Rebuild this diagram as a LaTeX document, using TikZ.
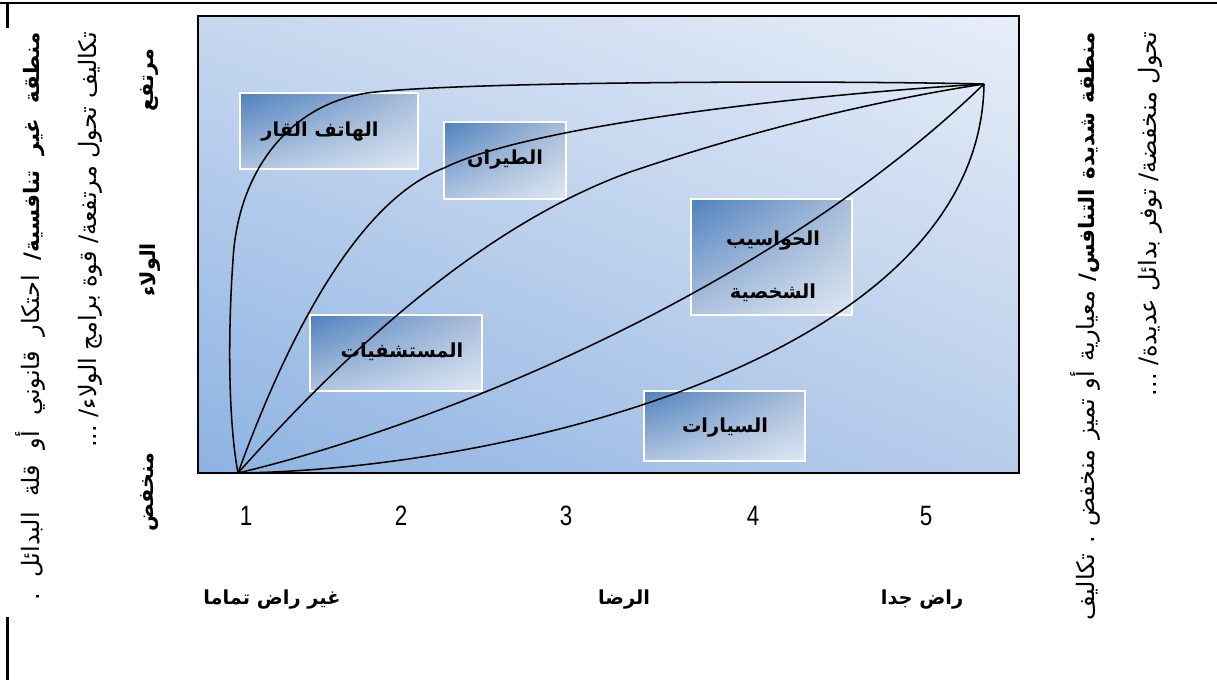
\documentclass[tikz,border=0pt]{standalone}
\usepackage{fontspec}
\setmainfont{Liberation Sans}
\newfontfamily\arreg[Script=Arabic]{DejaVu Sans}
\newcommand\arbold{\arreg\bfseries}
\newcommand\sidebold{\arreg\bfseries\fontsize{16}{22}\selectfont}
\TeXXeTstate=1
\usetikzlibrary{fit,shadings}
\definecolor{bgLL}{RGB}{141,179,226}
\definecolor{bgUR}{RGB}{231,238,248}
\definecolor{bgUL}{RGB}{198,215,239}
\definecolor{bgLR}{RGB}{183,204,235}
\definecolor{bxUL}{RGB}{79,129,189}
\definecolor{bxLR}{RGB}{222,231,243}
\definecolor{bxUR}{RGB}{168,189,218}
\definecolor{bxLL}{RGB}{176,196,224}
\newcommand\myAR[1]{\beginR #1\endR}
\newcommand\mynum[1]{\scalebox{0.8}[1]{#1}}
\tikzset{
  plotarea/.style={draw=black, line width=1.3pt, inner sep=0pt, shade,
    upper left=bgUL, upper right=bgUR, lower left=bgLL, lower right=bgLR},
  catbox/.style={draw=white, line width=1.4pt, inner sep=0pt, shade,
    upper left=bxUL, upper right=bxUR, lower left=bxLL, lower right=bxLR},
  cattext/.style={font=\arbold\fontsize{14.5}{40}\selectfont, align=center, inner sep=0pt},
  curve/.style={draw=black, line width=1.15pt},
  sidetext/.style={rotate=90, anchor=east, inner sep=0pt, font=\arreg\fontsize{18}{22}\selectfont},
  axislbl/.style={rotate=90, inner sep=0pt, font=\arbold\fontsize{15.5}{22}\selectfont},
  numlbl/.style={inner sep=0pt, font=\fontsize{21}{24}\selectfont},
  botlbl/.style={inner sep=0pt, font=\arbold\fontsize{14.5}{22}\selectfont},
  frameline/.style={draw=black, line width=1.6pt}
}
\begin{document}
\begin{tikzpicture}[x=0.75pt,y=-0.75pt]
\useasboundingbox (0,0) rectangle (1217,680);
\fill[white] (0,0) rectangle (1217,680);
% frame lines
\coordinate (tl) at (0,3);
\coordinate (tr) at (1217,3);
\draw[frameline] (tl) -- (tr);
\coordinate (v1a) at (7.5,2);
\coordinate (v1b) at (7.5,28);
\coordinate (v2a) at (7.5,617);
\coordinate (v2b) at (7.5,680);
\draw[frameline] (v1a) -- (v1b);
\draw[frameline] (v2a) -- (v2b);
% plot area
\node[plotarea, fit={(198,16) (1019,473)}] (plot) {};
% category boxes
\node[catbox, fit={(240,93) (418,169)}] (phone) {};
\node[catbox, fit={(444,122) (566,199)}] (air) {};
\node[catbox, fit={(310,315) (482,391)}] (hosp) {};
\node[catbox, fit={(691,199) (852,315)}] (pc) {};
\node[catbox, fit={(644,391) (805,461)}] (cars) {};
\node[cattext] (phoneT) at (320,132) {\myAR{الهاتف القار}};
\node[cattext] (airT) at (505,160) {\myAR{الطيران}};
\node[cattext] (hospT) at (402,352) {\myAR{المستشفيات}};
\node[cattext] (pcT) at (773,266) {\myAR{الحواسيب}\\\myAR{الشخصية}};
\node[cattext] (carsT) at (725,428) {\myAR{السيارات}};
% curves
\coordinate (A) at (238,473);
\coordinate (B) at (984,84);
\draw[curve] (A) .. controls (228,420) and (228,330) .. (233,260)
  .. controls (238,170) and (290,105) .. (367,93)
  .. controls (450,82) and (800,80) .. (B);
\draw[curve] (A) .. controls (290,330) and (360,200) .. (444,168)
  .. controls (528,126) and (800,95) .. (B);
\draw[curve] (A) .. controls (330,370) and (470,230) .. (630,172)
  .. controls (760,128) and (880,100) .. (B);
\draw[curve] (A) .. controls (420,430) and (760,300) .. (B);
\draw[curve] (A) .. controls (500,470) and (980,360) .. (B);
% axis numbers
\node[numlbl] (n1) at (246,516) {\mynum{1}};
\node[numlbl] (n2) at (401,516) {\mynum{2}};
\node[numlbl] (n3) at (566,516) {\mynum{3}};
\node[numlbl] (n4) at (753,516) {\mynum{4}};
\node[numlbl] (n5) at (926,516) {\mynum{5}};
% bottom labels
\node[botlbl] (b1) at (272,600) {\myAR{غير راض تماما}};
\node[botlbl] (b2) at (624,600) {\myAR{الرضا}};
\node[botlbl] (b3) at (922,600) {\myAR{راض جدا}};
% vertical axis labels
\node[axislbl] (yhi) at (150,80) {\myAR{مرتفع}};
\node[axislbl] (ymid) at (150,270) {\myAR{الولاء}};
\node[axislbl] (ylo) at (150,492) {\myAR{منخفض}};
% left side texts
\node[sidetext] (L1) at (30,32) {\hbox to 426pt{\beginR{\sidebold منطقة\hfill غير\hfill تنافسية/}\hfill احتكار\hfill قانوني\hfill أو\hfill قلة\hfill البدائل\hfill .\endR}};
\node[sidetext] (L2) at (90,32) {\myAR{تكاليف تحول مرتفعة/ قوة برامج الولاء/ ...}};
% right side texts
\node[sidetext] (R1) at (1085,32) {\hbox to 441pt{\beginR{\sidebold منطقة\hfill شديدة\hfill التنافس/}\hfill معيارية\hfill أو\hfill تميز\hfill منخفض\hfill .\hfill تكاليف\endR}};
\node[sidetext] (R2) at (1150,32) {\myAR{تحول منخفضة/ توفر بدائل عديدة/ ...}};
\end{tikzpicture}
\end{document}
